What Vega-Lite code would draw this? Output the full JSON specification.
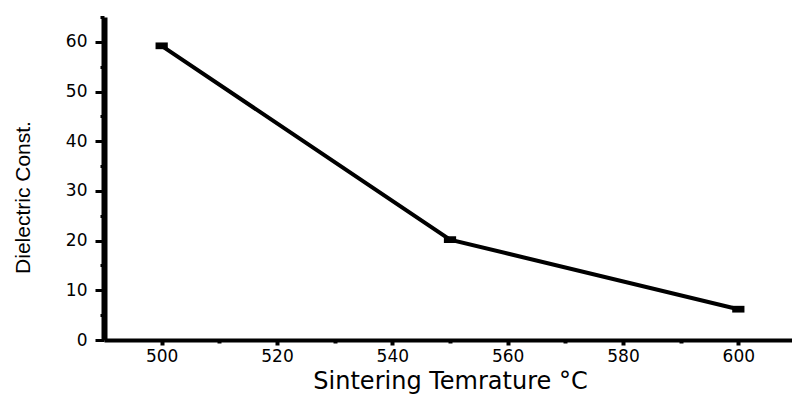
{
  "$schema": "https://vega.github.io/schema/vega-lite/v6.json",
  "width": 692,
  "height": 323,
  "autosize": "none",
  "padding": {"left": 104, "top": 17, "right": 0, "bottom": 56},
  "background": "white",
  "config": {"view": {"stroke": null}},
  "data": {"values": [
    {"temp": 500, "k": 59.2},
    {"temp": 550, "k": 20.2},
    {"temp": 600, "k": 6.2}
  ]},
  "encoding": {
    "x": {
      "field": "temp", "type": "quantitative",
      "scale": {"domain": [490, 610], "nice": false, "zero": false},
      "axis": {
        "values": [500, 510, 520, 530, 540, 550, 560, 570, 580, 590, 600, 610],
        "labelExpr": "datum.value % 20 === 0 ? datum.label : ''",
        "tickSize": {"condition": {"test": "datum.value % 20 === 0", "value": 5}, "value": 3},
        "tickWidth": 4,
        "tickColor": "black",
        "domainColor": "black",
        "domainWidth": 4,
        "grid": false,
        "labelFont": "DejaVu Sans",
        "labelFontSize": 17,
        "labelColor": "black",
        "labelPadding": 3,
        "title": "Sintering Temrature °C",
        "titleFont": "DejaVu Sans",
        "titleFontSize": 24,
        "titleFontWeight": "normal",
        "titleColor": "black",
        "titlePadding": 5
      }
    },
    "y": {
      "field": "k", "type": "quantitative",
      "scale": {"domain": [0, 65], "nice": false},
      "axis": {
        "values": [0, 5, 10, 15, 20, 25, 30, 35, 40, 45, 50, 55, 60, 65],
        "labelExpr": "datum.value % 10 === 0 ? datum.label : ''",
        "tickSize": {"condition": {"test": "datum.value % 10 === 0", "value": 9}, "value": 4},
        "tickWidth": 3,
        "tickColor": "black",
        "domainColor": "black",
        "domainWidth": 6,
        "grid": false,
        "labelFont": "DejaVu Sans",
        "labelFontSize": 17,
        "labelColor": "black",
        "labelPadding": 8,
        "title": "Dielectric Const.",
        "titleFont": "Liberation Sans",
        "titleFontSize": 21,
        "titleFontWeight": "normal",
        "titleColor": "black",
        "titlePadding": 32,
        "titleY": 180
      }
    }
  },
  "layer": [
    {"mark": {"type": "line", "color": "black", "strokeWidth": 4}},
    {"mark": {"type": "point", "shape": "M-1,-0.55H1V0.55H-1Z", "filled": true, "color": "black", "opacity": 1, "size": 150}}
  ]
}
